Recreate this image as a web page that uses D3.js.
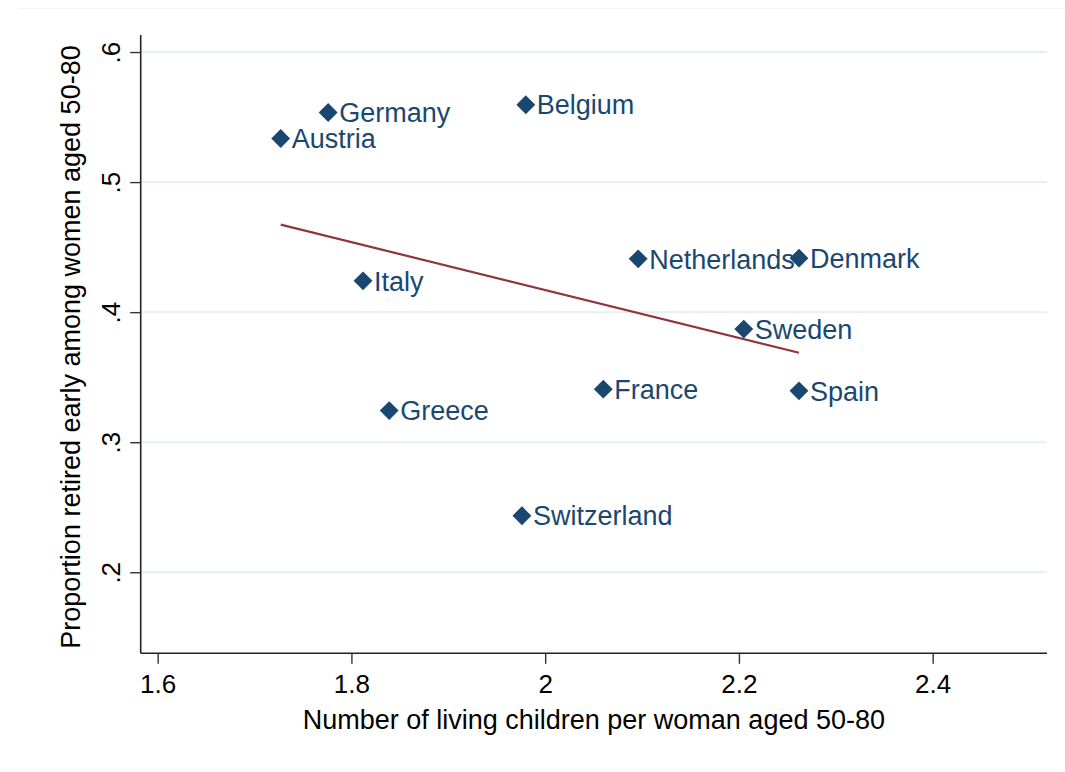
<!DOCTYPE html>
<html>
<head>
<meta charset="utf-8">
<script src="https://cdn.jsdelivr.net/npm/d3@7"></script>
<style>
  html, body { margin: 0; padding: 0; background: #fff; }
  svg { display: block; font-family: "Liberation Sans", Arial, Helvetica, sans-serif; }
</style>
</head>
<body>
<svg id="chart" width="1065" height="772"></svg>
<script>
// Countries, children per woman aged 50-80 (x) and share retired early (y)
const countries = ["Austria", "Germany", "Italy", "Greece", "Switzerland", "Belgium",
                   "France", "Netherlands", "Sweden", "Denmark", "Spain"];
const children  = [1.727, 1.776, 1.812, 1.839, 1.976, 1.980, 2.060, 2.096, 2.205, 2.262, 2.262];
const retired   = [0.5335, 0.5535, 0.4241, 0.3243, 0.2435, 0.5595, 0.3408, 0.4410, 0.3870, 0.4415, 0.3395];

const xTicks = [1.6, 1.8, 2.0, 2.2, 2.4];
const xTickLabels = ["1.6", "1.8", "2", "2.2", "2.4"];
const yTicks = [0.2, 0.3, 0.4, 0.5, 0.6];
const yTickLabels = [".2", ".3", ".4", ".5", ".6"];

const xTitle = "Number of living children per woman aged 50-80";
const yTitle = "Proportion retired early among women aged 50-80";

// Axis extents
const xDomain = [1.5825, 2.518];
const yDomain = [0.1377, 0.6131];

const plot = { left: 140.7, right: 1047, top: 35, bottom: 653.3 };
const navy = "#1a476f";
const maroon = "#90353b";

const svg = d3.select("#chart");

const x = d3.scaleLinear().domain(xDomain).range([plot.left, plot.right]);
const y = d3.scaleLinear().domain(yDomain).range([plot.bottom, plot.top]);

// faint frame edge along the top
svg.append("line")
  .attr("x1", 18).attr("x2", 1065).attr("y1", 8.5).attr("y2", 8.5)
  .attr("stroke", "#f2f3f3").attr("stroke-width", 1.2);

// horizontal gridlines
svg.append("g").selectAll("line").data(yTicks).join("line")
  .attr("x1", plot.left).attr("x2", plot.right)
  .attr("y1", d => y(d)).attr("y2", d => y(d))
  .attr("stroke", "#e8eff2").attr("stroke-width", 2);

// y axis
const yAxis = svg.append("g")
  .attr("transform", `translate(${plot.left},0)`)
  .call(d3.axisLeft(y).tickValues(yTicks).tickSize(10.5).tickSizeOuter(0)
        .tickFormat((d, i) => yTickLabels[i]));
yAxis.select(".domain").attr("stroke", "#222").attr("stroke-width", 1.6)
  .attr("d", `M0,${plot.top}V${plot.bottom}`);
yAxis.selectAll(".tick line").attr("stroke", "#333").attr("stroke-width", 1.4);
yAxis.selectAll(".tick text")
  .attr("x", 0).attr("y", 0).attr("dy", null)
  .attr("transform", "translate(-21,0) rotate(-90)")
  .attr("text-anchor", "middle")
  .attr("font-size", 26).attr("fill", "#000")
  .attr("font-family", "Liberation Sans, Arial, sans-serif");

// x axis
const xAxis = svg.append("g")
  .attr("transform", `translate(0,${plot.bottom})`)
  .call(d3.axisBottom(x).tickValues(xTicks).tickSize(10.5).tickSizeOuter(0)
        .tickFormat((d, i) => xTickLabels[i]));
xAxis.select(".domain").attr("stroke", "#222").attr("stroke-width", 1.6)
  .attr("d", `M${plot.left},0H${plot.right}`);
xAxis.selectAll(".tick line").attr("stroke", "#333").attr("stroke-width", 1.4);
xAxis.selectAll(".tick text")
  .attr("y", 39.5).attr("dy", null)
  .attr("font-size", 26).attr("fill", "#000")
  .attr("font-family", "Liberation Sans, Arial, sans-serif");

// axis titles
svg.append("text")
  .attr("x", (plot.left + plot.right) / 2).attr("y", 728.5)
  .attr("text-anchor", "middle").attr("font-size", 27).attr("fill", "#000")
  .text(xTitle);
svg.append("text")
  .attr("transform", `translate(80,347) rotate(-90)`)
  .attr("text-anchor", "middle").attr("font-size", 27).attr("fill", "#000")
  .text(yTitle);

// least-squares fitted line over the observed range of x
const mx = d3.mean(children), my = d3.mean(retired);
const sxy = d3.sum(children, (c, i) => (c - mx) * (retired[i] - my));
const sxx = d3.sum(children, c => (c - mx) ** 2);
const slope = sxy / sxx, intercept = my - slope * mx;
const fitX = d3.extent(children);
svg.append("path")
  .datum(fitX.map(v => [v, intercept + slope * v]))
  .attr("d", d3.line().x(d => x(d[0])).y(d => y(d[1])))
  .attr("fill", "none").attr("stroke", maroon).attr("stroke-width", 2.2);

// markers and labels
const pts = countries.map((c, i) => ({ name: c, cx: children[i], cy: retired[i] }));
const diamond = d3.symbol().type(d3.symbolSquare).size(178);

const g = svg.append("g");
g.selectAll("path.pt").data(pts).join("path")
  .attr("class", "pt")
  .attr("d", diamond)
  .attr("transform", d => `translate(${x(d.cx)},${y(d.cy)}) rotate(45)`)
  .attr("fill", navy);

g.selectAll("text.lbl").data(pts).join("text")
  .attr("class", "lbl")
  .attr("x", d => x(d.cx) + 11)
  .attr("y", d => y(d.cy))
  .attr("dy", "0.36em")
  .attr("font-size", 27)
  .attr("fill", navy)
  .text(d => d.name);
</script>
</body>
</html>
